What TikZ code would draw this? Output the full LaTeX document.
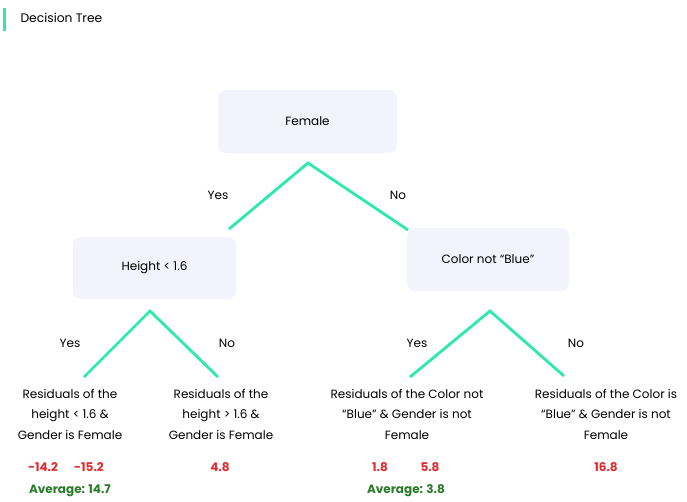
\documentclass[tikz,border=0pt]{standalone}
\usepackage{fontspec}
\setmainfont{Poppins}
\definecolor{mint}{HTML}{2EEAA8}
\definecolor{boxfill}{HTML}{F2F3FC}
\definecolor{resred}{HTML}{E02A2E}
\definecolor{avggreen}{HTML}{2A7A2A}
\begin{document}
\begin{tikzpicture}[x=1pt,y=-1pt,
  decbox/.style={fill=boxfill,rounded corners=8pt,inner sep=0pt,font=\fontsize{12}{14}\selectfont},
  branch/.style={draw=mint,line width=2.8pt},
  lbl/.style={font=\fontsize{12}{14}\selectfont},
  leaf/.style={align=center,font=\fontsize{12}{20.5}\selectfont,inner sep=0pt},
  val/.style={text=resred,font=\fontsize{12}{14}\selectfont\bfseries},
  avg/.style={text=avggreen,font=\fontsize{12}{14}\selectfont\bfseries}]
\useasboundingbox (0,0) rectangle (687,501);
\draw[mint,line width=3pt] (4,8) -- (4,31);
\node[anchor=west,font=\fontsize{12.3}{14}\selectfont] (title) at (17,18) {Decision Tree};
% boxes
\node[decbox,minimum width=179pt,minimum height=63pt] (female) at (307.5,121.5) {Female};
\node[decbox,minimum width=163pt,minimum height=62pt] (height) at (154.5,268) {Height < 1.6};
\node[decbox,minimum width=162pt,minimum height=63pt] (color) at (488,259.5) {Color not “Blue”};
% branches
\coordinate (a1) at (308,163);
\coordinate (a1l) at (229,229);
\coordinate (a1r) at (408,230);
\draw[branch] (a1l) -- (a1) -- (a1r);
\node[lbl] (y1) at (218,195) {Yes};
\node[lbl] (n1) at (398,195) {No};
\coordinate (a2) at (150,311);
\coordinate (a2l) at (84,377);
\coordinate (a2r) at (218,377);
\draw[branch] (a2l) -- (a2) -- (a2r);
\node[lbl] (y2) at (70,343) {Yes};
\node[lbl] (n2) at (227,343) {No};
\coordinate (a3) at (490,311);
\coordinate (a3l) at (410,377);
\coordinate (a3r) at (564,376);
\draw[branch] (a3l) -- (a3) -- (a3r);
\node[lbl] (y3) at (417,343) {Yes};
\node[lbl] (n3) at (576,343) {No};
% leaves
\node[leaf,anchor=north] (l1) at (70,389) {Residuals of the\\height < 1.6 \&\\Gender is Female};
\node[leaf,anchor=north] (l2) at (221,389) {Residuals of the\\height > 1.6 \&\\Gender is Female};
\node[leaf,anchor=north] (l3) at (407,389) {Residuals of the Color not\\“Blue” \& Gender is not\\Female};
\node[leaf,anchor=north] (l4) at (606,389) {Residuals of the Color is\\“Blue” \& Gender is not\\Female};
% values
\node[val] (v1) at (43,467) {-14.2};
\node[val] (v2) at (89,467) {-15.2};
\node[val] (v3) at (220,467) {4.8};
\node[val] (v4) at (380,467) {1.8};
\node[val] (v5) at (430,467) {5.8};
\node[val] (v6) at (606,467) {16.8};
\node[avg] (av1) at (70,491) {Average: 14.7};
\node[avg] (av2) at (406,491) {Average: 3.8};
\end{tikzpicture}
\end{document}
